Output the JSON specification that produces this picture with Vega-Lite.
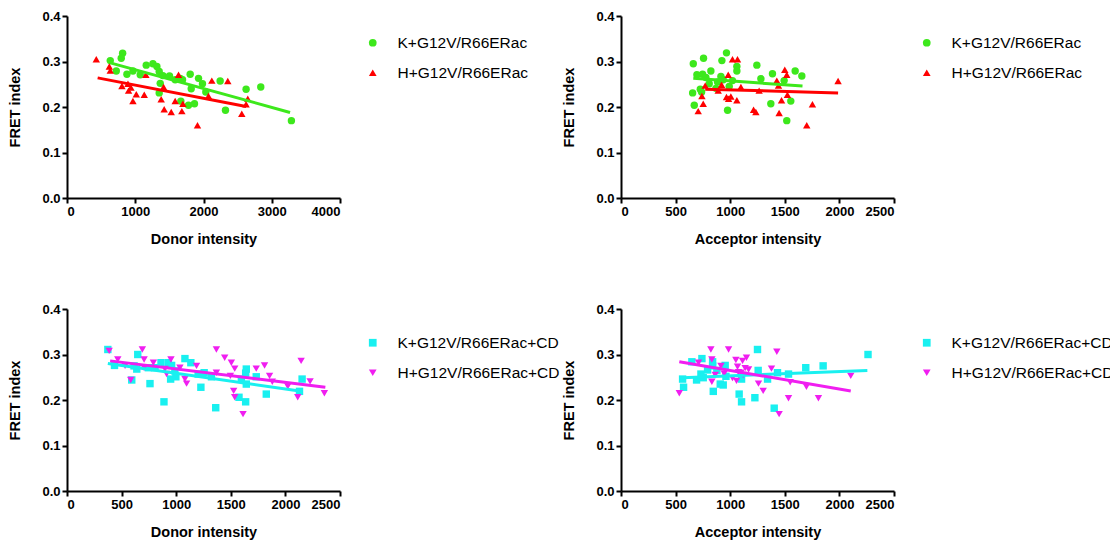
{
  "$schema": "https://vega.github.io/schema/vega-lite/v6.json",
  "background": "white",
  "padding": {"left": 7, "top": 10, "right": 5, "bottom": 5},
  "columns": 2,
  "bounds": "flush",
  "spacing": {"row": 111, "column": 281},
  "config": {
    "font": "Liberation Sans",
    "view": {"stroke": null},
    "axis": {
      "grid": false,
      "domainColor": "black",
      "domainWidth": 2,
      "tickColor": "black",
      "tickWidth": 2,
      "tickSize": 5,
      "labelFont": "Liberation Sans",
      "labelFontWeight": "bold",
      "labelFontSize": 13,
      "labelColor": "black",
      "labelPadding": 2,
      "titleFont": "Liberation Sans",
      "titleFontWeight": "bold",
      "titleFontSize": 14.5,
      "titleColor": "black"
    },
    "axisX": {"titlePadding": 14},
    "axisY": {"titlePadding": 19},
    "legend": {
      "orient": "right",
      "labelFont": "Liberation Sans",
      "labelFontSize": 15.5,
      "labelColor": "black",
      "labelOffset": 17,
      "symbolSize": 60,
      "symbolStrokeWidth": 0,
      "rowPadding": 13,
      "labelLimit": 300
    }
  },
  "resolve": {
    "scale": {"x": "independent", "y": "independent", "color": "independent", "shape": "independent"},
    "legend": {"color": "independent", "shape": "independent"},
    "axis": {"x": "independent", "y": "independent"}
  },
  "datasets": {
    "p1": [
      {"series": "K+G12V/R66ERac", "x": 634, "y": 0.302},
      {"series": "K+G12V/R66ERac", "x": 815, "y": 0.318},
      {"series": "K+G12V/R66ERac", "x": 795, "y": 0.307},
      {"series": "K+G12V/R66ERac", "x": 722, "y": 0.279},
      {"series": "K+G12V/R66ERac", "x": 878, "y": 0.272},
      {"series": "K+G12V/R66ERac", "x": 966, "y": 0.279},
      {"series": "K+G12V/R66ERac", "x": 1073, "y": 0.271},
      {"series": "K+G12V/R66ERac", "x": 1161, "y": 0.292},
      {"series": "K+G12V/R66ERac", "x": 1259, "y": 0.295},
      {"series": "K+G12V/R66ERac", "x": 1317, "y": 0.289},
      {"series": "K+G12V/R66ERac", "x": 1351, "y": 0.278},
      {"series": "K+G12V/R66ERac", "x": 1405, "y": 0.269},
      {"series": "K+G12V/R66ERac", "x": 1502, "y": 0.268},
      {"series": "K+G12V/R66ERac", "x": 1366, "y": 0.252},
      {"series": "K+G12V/R66ERac", "x": 1351, "y": 0.231},
      {"series": "K+G12V/R66ERac", "x": 1585, "y": 0.26},
      {"series": "K+G12V/R66ERac", "x": 1659, "y": 0.263},
      {"series": "K+G12V/R66ERac", "x": 1693, "y": 0.26},
      {"series": "K+G12V/R66ERac", "x": 1805, "y": 0.272},
      {"series": "K+G12V/R66ERac", "x": 1820, "y": 0.24},
      {"series": "K+G12V/R66ERac", "x": 1927, "y": 0.263},
      {"series": "K+G12V/R66ERac", "x": 1985, "y": 0.251},
      {"series": "K+G12V/R66ERac", "x": 2034, "y": 0.233},
      {"series": "K+G12V/R66ERac", "x": 1668, "y": 0.213},
      {"series": "K+G12V/R66ERac", "x": 1780, "y": 0.204},
      {"series": "K+G12V/R66ERac", "x": 1868, "y": 0.207},
      {"series": "K+G12V/R66ERac", "x": 2244, "y": 0.257},
      {"series": "K+G12V/R66ERac", "x": 2322, "y": 0.193},
      {"series": "K+G12V/R66ERac", "x": 2624, "y": 0.239},
      {"series": "K+G12V/R66ERac", "x": 2839, "y": 0.244},
      {"series": "K+G12V/R66ERac", "x": 3288, "y": 0.17},
      {"series": "H+G12V/R66ERac", "x": 429, "y": 0.305},
      {"series": "H+G12V/R66ERac", "x": 620, "y": 0.289},
      {"series": "H+G12V/R66ERac", "x": 634, "y": 0.28},
      {"series": "H+G12V/R66ERac", "x": 805, "y": 0.246},
      {"series": "H+G12V/R66ERac", "x": 893, "y": 0.251},
      {"series": "H+G12V/R66ERac", "x": 902, "y": 0.236},
      {"series": "H+G12V/R66ERac", "x": 937, "y": 0.243},
      {"series": "H+G12V/R66ERac", "x": 966, "y": 0.213},
      {"series": "H+G12V/R66ERac", "x": 1015, "y": 0.228},
      {"series": "H+G12V/R66ERac", "x": 1132, "y": 0.227},
      {"series": "H+G12V/R66ERac", "x": 1156, "y": 0.271},
      {"series": "H+G12V/R66ERac", "x": 1380, "y": 0.217},
      {"series": "H+G12V/R66ERac", "x": 1415, "y": 0.244},
      {"series": "H+G12V/R66ERac", "x": 1424, "y": 0.195},
      {"series": "H+G12V/R66ERac", "x": 1527, "y": 0.189},
      {"series": "H+G12V/R66ERac", "x": 1585, "y": 0.213},
      {"series": "H+G12V/R66ERac", "x": 1634, "y": 0.271},
      {"series": "H+G12V/R66ERac", "x": 1683, "y": 0.191},
      {"series": "H+G12V/R66ERac", "x": 1698, "y": 0.207},
      {"series": "H+G12V/R66ERac", "x": 1912, "y": 0.16},
      {"series": "H+G12V/R66ERac", "x": 2073, "y": 0.224},
      {"series": "H+G12V/R66ERac", "x": 2122, "y": 0.258},
      {"series": "H+G12V/R66ERac", "x": 2356, "y": 0.257},
      {"series": "H+G12V/R66ERac", "x": 2561, "y": 0.185},
      {"series": "H+G12V/R66ERac", "x": 2624, "y": 0.206},
      {"series": "H+G12V/R66ERac", "x": 2649, "y": 0.218}
    ],
    "l1": [
      {"series": "K+G12V/R66ERac", "x": 634, "y": 0.297},
      {"series": "K+G12V/R66ERac", "x": 3268, "y": 0.188},
      {"series": "H+G12V/R66ERac", "x": 449, "y": 0.264},
      {"series": "H+G12V/R66ERac", "x": 2624, "y": 0.201}
    ],
    "p2": [
      {"series": "K+G12V/R66ERac", "x": 662, "y": 0.295},
      {"series": "K+G12V/R66ERac", "x": 671, "y": 0.204},
      {"series": "K+G12V/R66ERac", "x": 656, "y": 0.231},
      {"series": "K+G12V/R66ERac", "x": 695, "y": 0.271},
      {"series": "K+G12V/R66ERac", "x": 726, "y": 0.239},
      {"series": "K+G12V/R66ERac", "x": 738, "y": 0.233},
      {"series": "K+G12V/R66ERac", "x": 747, "y": 0.272},
      {"series": "K+G12V/R66ERac", "x": 756, "y": 0.307},
      {"series": "K+G12V/R66ERac", "x": 777, "y": 0.265},
      {"series": "K+G12V/R66ERac", "x": 808, "y": 0.251},
      {"series": "K+G12V/R66ERac", "x": 823, "y": 0.279},
      {"series": "K+G12V/R66ERac", "x": 869, "y": 0.241},
      {"series": "K+G12V/R66ERac", "x": 884, "y": 0.255},
      {"series": "K+G12V/R66ERac", "x": 915, "y": 0.267},
      {"series": "K+G12V/R66ERac", "x": 924, "y": 0.302},
      {"series": "K+G12V/R66ERac", "x": 936, "y": 0.26},
      {"series": "K+G12V/R66ERac", "x": 966, "y": 0.319},
      {"series": "K+G12V/R66ERac", "x": 976, "y": 0.193},
      {"series": "K+G12V/R66ERac", "x": 991, "y": 0.245},
      {"series": "K+G12V/R66ERac", "x": 1021, "y": 0.258},
      {"series": "K+G12V/R66ERac", "x": 1061, "y": 0.289},
      {"series": "K+G12V/R66ERac", "x": 1061, "y": 0.279},
      {"series": "K+G12V/R66ERac", "x": 1244, "y": 0.292},
      {"series": "K+G12V/R66ERac", "x": 1281, "y": 0.262},
      {"series": "K+G12V/R66ERac", "x": 1372, "y": 0.207},
      {"series": "K+G12V/R66ERac", "x": 1387, "y": 0.273},
      {"series": "K+G12V/R66ERac", "x": 1494, "y": 0.258},
      {"series": "K+G12V/R66ERac", "x": 1518, "y": 0.17},
      {"series": "K+G12V/R66ERac", "x": 1555, "y": 0.213},
      {"series": "K+G12V/R66ERac", "x": 1595, "y": 0.279},
      {"series": "K+G12V/R66ERac", "x": 1656, "y": 0.268},
      {"series": "H+G12V/R66ERac", "x": 707, "y": 0.191},
      {"series": "H+G12V/R66ERac", "x": 741, "y": 0.224},
      {"series": "H+G12V/R66ERac", "x": 753, "y": 0.207},
      {"series": "H+G12V/R66ERac", "x": 771, "y": 0.247},
      {"series": "H+G12V/R66ERac", "x": 890, "y": 0.236},
      {"series": "H+G12V/R66ERac", "x": 921, "y": 0.249},
      {"series": "H+G12V/R66ERac", "x": 966, "y": 0.222},
      {"series": "H+G12V/R66ERac", "x": 982, "y": 0.271},
      {"series": "H+G12V/R66ERac", "x": 985, "y": 0.218},
      {"series": "H+G12V/R66ERac", "x": 1006, "y": 0.223},
      {"series": "H+G12V/R66ERac", "x": 1021, "y": 0.305},
      {"series": "H+G12V/R66ERac", "x": 1067, "y": 0.305},
      {"series": "H+G12V/R66ERac", "x": 1061, "y": 0.215},
      {"series": "H+G12V/R66ERac", "x": 1098, "y": 0.244},
      {"series": "H+G12V/R66ERac", "x": 1214, "y": 0.194},
      {"series": "H+G12V/R66ERac", "x": 1235, "y": 0.189},
      {"series": "H+G12V/R66ERac", "x": 1265, "y": 0.236},
      {"series": "H+G12V/R66ERac", "x": 1427, "y": 0.258},
      {"series": "H+G12V/R66ERac", "x": 1442, "y": 0.247},
      {"series": "H+G12V/R66ERac", "x": 1448, "y": 0.187},
      {"series": "H+G12V/R66ERac", "x": 1470, "y": 0.215},
      {"series": "H+G12V/R66ERac", "x": 1500, "y": 0.282},
      {"series": "H+G12V/R66ERac", "x": 1518, "y": 0.271},
      {"series": "H+G12V/R66ERac", "x": 1524, "y": 0.227},
      {"series": "H+G12V/R66ERac", "x": 1701, "y": 0.16},
      {"series": "H+G12V/R66ERac", "x": 1753, "y": 0.206},
      {"series": "H+G12V/R66ERac", "x": 1988, "y": 0.257}
    ],
    "l2": [
      {"series": "K+G12V/R66ERac", "x": 662, "y": 0.263},
      {"series": "K+G12V/R66ERac", "x": 1662, "y": 0.246},
      {"series": "H+G12V/R66ERac", "x": 771, "y": 0.239},
      {"series": "H+G12V/R66ERac", "x": 1988, "y": 0.231}
    ],
    "p3": [
      {"series": "K+G12V/R66ERac+CD", "x": 374, "y": 0.311},
      {"series": "K+G12V/R66ERac+CD", "x": 435, "y": 0.276},
      {"series": "K+G12V/R66ERac+CD", "x": 593, "y": 0.244},
      {"series": "K+G12V/R66ERac+CD", "x": 614, "y": 0.275},
      {"series": "K+G12V/R66ERac+CD", "x": 648, "y": 0.3},
      {"series": "K+G12V/R66ERac+CD", "x": 639, "y": 0.268},
      {"series": "K+G12V/R66ERac+CD", "x": 760, "y": 0.236},
      {"series": "K+G12V/R66ERac+CD", "x": 745, "y": 0.271},
      {"series": "K+G12V/R66ERac+CD", "x": 806, "y": 0.271},
      {"series": "K+G12V/R66ERac+CD", "x": 861, "y": 0.282},
      {"series": "K+G12V/R66ERac+CD", "x": 888, "y": 0.196},
      {"series": "K+G12V/R66ERac+CD", "x": 928, "y": 0.282},
      {"series": "K+G12V/R66ERac+CD", "x": 949, "y": 0.246},
      {"series": "K+G12V/R66ERac+CD", "x": 958, "y": 0.276},
      {"series": "K+G12V/R66ERac+CD", "x": 988, "y": 0.264},
      {"series": "K+G12V/R66ERac+CD", "x": 997, "y": 0.251},
      {"series": "K+G12V/R66ERac+CD", "x": 1080, "y": 0.291},
      {"series": "K+G12V/R66ERac+CD", "x": 1134, "y": 0.282},
      {"series": "K+G12V/R66ERac+CD", "x": 1201, "y": 0.257},
      {"series": "K+G12V/R66ERac+CD", "x": 1226, "y": 0.228},
      {"series": "K+G12V/R66ERac+CD", "x": 1256, "y": 0.26},
      {"series": "K+G12V/R66ERac+CD", "x": 1323, "y": 0.251},
      {"series": "K+G12V/R66ERac+CD", "x": 1362, "y": 0.183},
      {"series": "K+G12V/R66ERac+CD", "x": 1575, "y": 0.206},
      {"series": "K+G12V/R66ERac+CD", "x": 1597, "y": 0.246},
      {"series": "K+G12V/R66ERac+CD", "x": 1636, "y": 0.196},
      {"series": "K+G12V/R66ERac+CD", "x": 1642, "y": 0.235},
      {"series": "K+G12V/R66ERac+CD", "x": 1642, "y": 0.268},
      {"series": "K+G12V/R66ERac+CD", "x": 1636, "y": 0.259},
      {"series": "K+G12V/R66ERac+CD", "x": 1733, "y": 0.251},
      {"series": "K+G12V/R66ERac+CD", "x": 1825, "y": 0.213},
      {"series": "K+G12V/R66ERac+CD", "x": 2129, "y": 0.219},
      {"series": "K+G12V/R66ERac+CD", "x": 2153, "y": 0.246},
      {"series": "H+G12V/R66ERac+CD", "x": 386, "y": 0.308},
      {"series": "H+G12V/R66ERac+CD", "x": 465, "y": 0.289},
      {"series": "H+G12V/R66ERac+CD", "x": 532, "y": 0.275},
      {"series": "H+G12V/R66ERac+CD", "x": 584, "y": 0.244},
      {"series": "H+G12V/R66ERac+CD", "x": 690, "y": 0.311},
      {"series": "H+G12V/R66ERac+CD", "x": 706, "y": 0.289},
      {"series": "H+G12V/R66ERac+CD", "x": 706, "y": 0.271},
      {"series": "H+G12V/R66ERac+CD", "x": 791, "y": 0.282},
      {"series": "H+G12V/R66ERac+CD", "x": 897, "y": 0.268},
      {"series": "H+G12V/R66ERac+CD", "x": 912, "y": 0.257},
      {"series": "H+G12V/R66ERac+CD", "x": 952, "y": 0.289},
      {"series": "H+G12V/R66ERac+CD", "x": 1034, "y": 0.271},
      {"series": "H+G12V/R66ERac+CD", "x": 1080, "y": 0.246},
      {"series": "H+G12V/R66ERac+CD", "x": 1095, "y": 0.236},
      {"series": "H+G12V/R66ERac+CD", "x": 1186, "y": 0.275},
      {"series": "H+G12V/R66ERac+CD", "x": 1368, "y": 0.26},
      {"series": "H+G12V/R66ERac+CD", "x": 1368, "y": 0.311},
      {"series": "H+G12V/R66ERac+CD", "x": 1444, "y": 0.293},
      {"series": "H+G12V/R66ERac+CD", "x": 1505, "y": 0.282},
      {"series": "H+G12V/R66ERac+CD", "x": 1536, "y": 0.269},
      {"series": "H+G12V/R66ERac+CD", "x": 1526, "y": 0.22},
      {"series": "H+G12V/R66ERac+CD", "x": 1536, "y": 0.206},
      {"series": "H+G12V/R66ERac+CD", "x": 1612, "y": 0.169},
      {"series": "H+G12V/R66ERac+CD", "x": 1733, "y": 0.269},
      {"series": "H+G12V/R66ERac+CD", "x": 1809, "y": 0.276},
      {"series": "H+G12V/R66ERac+CD", "x": 1855, "y": 0.253},
      {"series": "H+G12V/R66ERac+CD", "x": 1880, "y": 0.24},
      {"series": "H+G12V/R66ERac+CD", "x": 2022, "y": 0.23},
      {"series": "H+G12V/R66ERac+CD", "x": 2113, "y": 0.206},
      {"series": "H+G12V/R66ERac+CD", "x": 2144, "y": 0.286},
      {"series": "H+G12V/R66ERac+CD", "x": 2226, "y": 0.241},
      {"series": "H+G12V/R66ERac+CD", "x": 2357, "y": 0.215},
      {"series": "H+G12V/R66ERac+CD", "x": 1496, "y": 0.253}
    ],
    "l3": [
      {"series": "K+G12V/R66ERac+CD", "x": 374, "y": 0.28},
      {"series": "K+G12V/R66ERac+CD", "x": 2129, "y": 0.22},
      {"series": "H+G12V/R66ERac+CD", "x": 395, "y": 0.286},
      {"series": "H+G12V/R66ERac+CD", "x": 2366, "y": 0.228}
    ],
    "p4": [
      {"series": "K+G12V/R66ERac+CD", "x": 564, "y": 0.246},
      {"series": "K+G12V/R66ERac+CD", "x": 573, "y": 0.228},
      {"series": "K+G12V/R66ERac+CD", "x": 649, "y": 0.284},
      {"series": "K+G12V/R66ERac+CD", "x": 692, "y": 0.244},
      {"series": "K+G12V/R66ERac+CD", "x": 741, "y": 0.291},
      {"series": "K+G12V/R66ERac+CD", "x": 732, "y": 0.257},
      {"series": "K+G12V/R66ERac+CD", "x": 753, "y": 0.249},
      {"series": "K+G12V/R66ERac+CD", "x": 793, "y": 0.266},
      {"series": "K+G12V/R66ERac+CD", "x": 839, "y": 0.284},
      {"series": "K+G12V/R66ERac+CD", "x": 839, "y": 0.275},
      {"series": "K+G12V/R66ERac+CD", "x": 845, "y": 0.219},
      {"series": "K+G12V/R66ERac+CD", "x": 878, "y": 0.265},
      {"series": "K+G12V/R66ERac+CD", "x": 909, "y": 0.235},
      {"series": "K+G12V/R66ERac+CD", "x": 936, "y": 0.233},
      {"series": "K+G12V/R66ERac+CD", "x": 954, "y": 0.276},
      {"series": "K+G12V/R66ERac+CD", "x": 961, "y": 0.252},
      {"series": "K+G12V/R66ERac+CD", "x": 1082, "y": 0.213},
      {"series": "K+G12V/R66ERac+CD", "x": 1104, "y": 0.196},
      {"series": "K+G12V/R66ERac+CD", "x": 1104, "y": 0.246},
      {"series": "K+G12V/R66ERac+CD", "x": 1226, "y": 0.205},
      {"series": "K+G12V/R66ERac+CD", "x": 1250, "y": 0.311},
      {"series": "K+G12V/R66ERac+CD", "x": 1256, "y": 0.265},
      {"series": "K+G12V/R66ERac+CD", "x": 1342, "y": 0.246},
      {"series": "K+G12V/R66ERac+CD", "x": 1403, "y": 0.182},
      {"series": "K+G12V/R66ERac+CD", "x": 1433, "y": 0.26},
      {"series": "K+G12V/R66ERac+CD", "x": 1534, "y": 0.257},
      {"series": "K+G12V/R66ERac+CD", "x": 1692, "y": 0.271},
      {"series": "K+G12V/R66ERac+CD", "x": 1851, "y": 0.275},
      {"series": "K+G12V/R66ERac+CD", "x": 2262, "y": 0.3},
      {"series": "H+G12V/R66ERac+CD", "x": 534, "y": 0.215},
      {"series": "H+G12V/R66ERac+CD", "x": 710, "y": 0.282},
      {"series": "H+G12V/R66ERac+CD", "x": 823, "y": 0.311},
      {"series": "H+G12V/R66ERac+CD", "x": 832, "y": 0.289},
      {"series": "H+G12V/R66ERac+CD", "x": 832, "y": 0.24},
      {"series": "H+G12V/R66ERac+CD", "x": 863, "y": 0.255},
      {"series": "H+G12V/R66ERac+CD", "x": 915, "y": 0.275},
      {"series": "H+G12V/R66ERac+CD", "x": 945, "y": 0.258},
      {"series": "H+G12V/R66ERac+CD", "x": 985, "y": 0.311},
      {"series": "H+G12V/R66ERac+CD", "x": 1021, "y": 0.248},
      {"series": "H+G12V/R66ERac+CD", "x": 1052, "y": 0.288},
      {"series": "H+G12V/R66ERac+CD", "x": 1058, "y": 0.242},
      {"series": "H+G12V/R66ERac+CD", "x": 1067, "y": 0.273},
      {"series": "H+G12V/R66ERac+CD", "x": 1098, "y": 0.26},
      {"series": "H+G12V/R66ERac+CD", "x": 1113, "y": 0.286},
      {"series": "H+G12V/R66ERac+CD", "x": 1119, "y": 0.255},
      {"series": "H+G12V/R66ERac+CD", "x": 1137, "y": 0.27},
      {"series": "H+G12V/R66ERac+CD", "x": 1149, "y": 0.293},
      {"series": "H+G12V/R66ERac+CD", "x": 1168, "y": 0.267},
      {"series": "H+G12V/R66ERac+CD", "x": 1259, "y": 0.236},
      {"series": "H+G12V/R66ERac+CD", "x": 1302, "y": 0.22},
      {"series": "H+G12V/R66ERac+CD", "x": 1378, "y": 0.269},
      {"series": "H+G12V/R66ERac+CD", "x": 1427, "y": 0.306},
      {"series": "H+G12V/R66ERac+CD", "x": 1448, "y": 0.169},
      {"series": "H+G12V/R66ERac+CD", "x": 1534, "y": 0.204},
      {"series": "H+G12V/R66ERac+CD", "x": 1549, "y": 0.239},
      {"series": "H+G12V/R66ERac+CD", "x": 1698, "y": 0.229},
      {"series": "H+G12V/R66ERac+CD", "x": 1808, "y": 0.204},
      {"series": "H+G12V/R66ERac+CD", "x": 2104, "y": 0.253},
      {"series": "H+G12V/R66ERac+CD", "x": 1076, "y": 0.261}
    ],
    "l4": [
      {"series": "K+G12V/R66ERac+CD", "x": 564, "y": 0.249},
      {"series": "K+G12V/R66ERac+CD", "x": 2256, "y": 0.265},
      {"series": "H+G12V/R66ERac+CD", "x": 534, "y": 0.284},
      {"series": "H+G12V/R66ERac+CD", "x": 2104, "y": 0.22}
    ]
  },
  "concat": [
    {
      "width": 273, "height": 182,
      "layer": [
        {
          "data": {"name": "p1"},
          "mark": {"type": "point", "filled": true, "opacity": 1, "size": 55},
          "encoding": {
            "x": {"field": "x", "type": "quantitative", "scale": {"domain": [0, 4000], "nice": false}, "axis": {"title": "Donor intensity", "values": [0, 1000, 2000, 3000, 4000], "format": "d"}},
            "y": {"field": "y", "type": "quantitative", "scale": {"domain": [0, 0.4], "nice": false}, "axis": {"title": "FRET index", "values": [0, 0.1, 0.2, 0.3, 0.4], "format": ".1f"}},
            "color": {"field": "series", "type": "nominal", "scale": {"domain": ["K+G12V/R66ERac", "H+G12V/R66ERac"], "range": ["#3de81c", "#ff0000"]}, "legend": {"title": null, "padding": 19, "offset": 6}},
            "shape": {"field": "series", "type": "nominal", "scale": {"domain": ["K+G12V/R66ERac", "H+G12V/R66ERac"], "range": ["circle", "triangle-up"]}, "legend": {"title": null, "padding": 19, "offset": 6}}
          }
        },
        {
          "data": {"name": "l1"},
          "mark": {"type": "line", "strokeWidth": 3},
          "encoding": {
            "x": {"field": "x", "type": "quantitative"},
            "y": {"field": "y", "type": "quantitative"},
            "color": {"field": "series", "type": "nominal", "scale": {"domain": ["K+G12V/R66ERac", "H+G12V/R66ERac"], "range": ["#3de81c", "#ff0000"]}, "legend": {"title": null, "padding": 19, "offset": 6}},
            "detail": {"field": "series"}
          }
        }
      ]
    },
    {
      "width": 273, "height": 182,
      "layer": [
        {
          "data": {"name": "p2"},
          "mark": {"type": "point", "filled": true, "opacity": 1, "size": 55},
          "encoding": {
            "x": {"field": "x", "type": "quantitative", "scale": {"domain": [0, 2500], "nice": false}, "axis": {"title": "Acceptor intensity", "values": [0, 500, 1000, 1500, 2000, 2500], "format": "d"}},
            "y": {"field": "y", "type": "quantitative", "scale": {"domain": [0, 0.4], "nice": false}, "axis": {"title": "FRET index", "values": [0, 0.1, 0.2, 0.3, 0.4], "format": ".1f"}},
            "color": {"field": "series", "type": "nominal", "scale": {"domain": ["K+G12V/R66ERac", "H+G12V/R66ERac"], "range": ["#3de81c", "#ff0000"]}, "legend": {"title": null, "padding": 19, "offset": 6}},
            "shape": {"field": "series", "type": "nominal", "scale": {"domain": ["K+G12V/R66ERac", "H+G12V/R66ERac"], "range": ["circle", "triangle-up"]}, "legend": {"title": null, "padding": 19, "offset": 6}}
          }
        },
        {
          "data": {"name": "l2"},
          "mark": {"type": "line", "strokeWidth": 3},
          "encoding": {
            "x": {"field": "x", "type": "quantitative"},
            "y": {"field": "y", "type": "quantitative"},
            "color": {"field": "series", "type": "nominal", "scale": {"domain": ["K+G12V/R66ERac", "H+G12V/R66ERac"], "range": ["#3de81c", "#ff0000"]}, "legend": {"title": null, "padding": 19, "offset": 6}},
            "detail": {"field": "series"}
          }
        }
      ]
    },
    {
      "width": 273, "height": 182,
      "layer": [
        {
          "data": {"name": "p3"},
          "mark": {"type": "point", "filled": true, "opacity": 1, "size": 55},
          "encoding": {
            "x": {"field": "x", "type": "quantitative", "scale": {"domain": [0, 2500], "nice": false}, "axis": {"title": "Donor intensity", "values": [0, 500, 1000, 1500, 2000, 2500], "format": "d"}},
            "y": {"field": "y", "type": "quantitative", "scale": {"domain": [0, 0.4], "nice": false}, "axis": {"title": "FRET index", "values": [0, 0.1, 0.2, 0.3, 0.4], "format": ".1f"}},
            "color": {"field": "series", "type": "nominal", "scale": {"domain": ["K+G12V/R66ERac+CD", "H+G12V/R66ERac+CD"], "range": ["#19f0f0", "#f01ef0"]}, "legend": {"title": null, "padding": 26, "offset": -1}},
            "shape": {"field": "series", "type": "nominal", "scale": {"domain": ["K+G12V/R66ERac+CD", "H+G12V/R66ERac+CD"], "range": ["square", "triangle-down"]}, "legend": {"title": null, "padding": 26, "offset": -1}}
          }
        },
        {
          "data": {"name": "l3"},
          "mark": {"type": "line", "strokeWidth": 3},
          "encoding": {
            "x": {"field": "x", "type": "quantitative"},
            "y": {"field": "y", "type": "quantitative"},
            "color": {"field": "series", "type": "nominal", "scale": {"domain": ["K+G12V/R66ERac+CD", "H+G12V/R66ERac+CD"], "range": ["#19f0f0", "#f01ef0"]}, "legend": {"title": null, "padding": 26, "offset": -1}},
            "detail": {"field": "series"}
          }
        }
      ]
    },
    {
      "width": 273, "height": 182,
      "layer": [
        {
          "data": {"name": "p4"},
          "mark": {"type": "point", "filled": true, "opacity": 1, "size": 55},
          "encoding": {
            "x": {"field": "x", "type": "quantitative", "scale": {"domain": [0, 2500], "nice": false}, "axis": {"title": "Acceptor intensity", "values": [0, 500, 1000, 1500, 2000, 2500], "format": "d"}},
            "y": {"field": "y", "type": "quantitative", "scale": {"domain": [0, 0.4], "nice": false}, "axis": {"title": "FRET index", "values": [0, 0.1, 0.2, 0.3, 0.4], "format": ".1f"}},
            "color": {"field": "series", "type": "nominal", "scale": {"domain": ["K+G12V/R66ERac+CD", "H+G12V/R66ERac+CD"], "range": ["#19f0f0", "#f01ef0"]}, "legend": {"title": null, "padding": 26, "offset": -1}},
            "shape": {"field": "series", "type": "nominal", "scale": {"domain": ["K+G12V/R66ERac+CD", "H+G12V/R66ERac+CD"], "range": ["square", "triangle-down"]}, "legend": {"title": null, "padding": 26, "offset": -1}}
          }
        },
        {
          "data": {"name": "l4"},
          "mark": {"type": "line", "strokeWidth": 3},
          "encoding": {
            "x": {"field": "x", "type": "quantitative"},
            "y": {"field": "y", "type": "quantitative"},
            "color": {"field": "series", "type": "nominal", "scale": {"domain": ["K+G12V/R66ERac+CD", "H+G12V/R66ERac+CD"], "range": ["#19f0f0", "#f01ef0"]}, "legend": {"title": null, "padding": 26, "offset": -1}},
            "detail": {"field": "series"}
          }
        }
      ]
    }
  ]
}
